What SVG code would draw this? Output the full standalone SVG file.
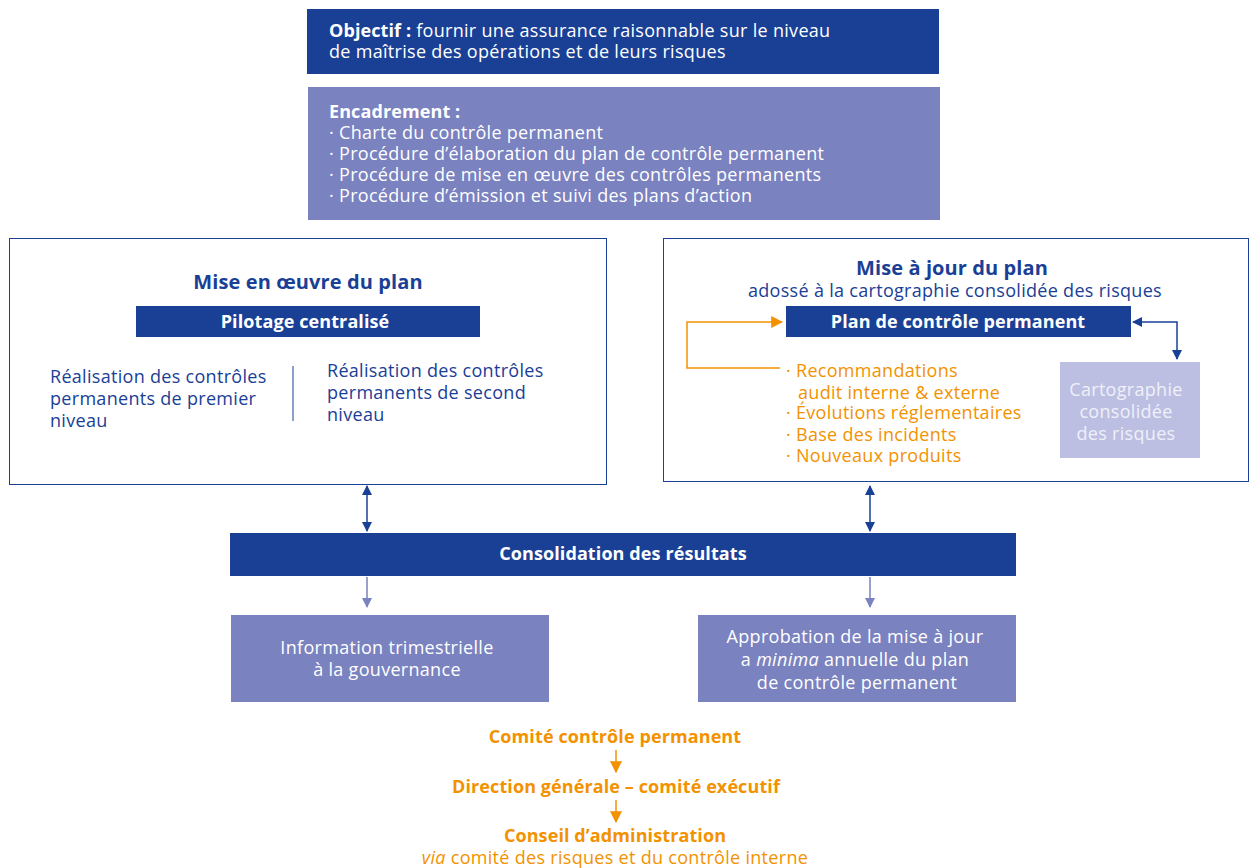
<svg xmlns="http://www.w3.org/2000/svg" width="1250" height="868" viewBox="0 0 1250 868">
<style>
text{font-family:"Open Sans","Noto Sans","Liberation Sans",sans-serif;font-size:18px;letter-spacing:0.3px}
.b{font-weight:700;letter-spacing:0.1px}
.t{font-size:20px}
.w{fill:#ffffff}
.db{fill:#1a4096}
.or{fill:#f39200}
.c{text-anchor:middle}
.lav{fill:#f0f0fa}
</style>
<defs>
<marker id="ab" viewBox="0 0 10 10" refX="9" refY="5" markerWidth="10" markerHeight="10" markerUnits="userSpaceOnUse" orient="auto-start-reverse"><path d="M0,0 L10,5 L0,10 z" fill="#1a4096"/></marker>
<marker id="ap" viewBox="0 0 10 10" refX="9" refY="5" markerWidth="10" markerHeight="10" markerUnits="userSpaceOnUse" orient="auto"><path d="M0,0 L10,5 L0,10 z" fill="#7a82bf"/></marker>
<marker id="ao" viewBox="0 0 10 10" refX="9" refY="5" markerWidth="12" markerHeight="12" markerUnits="userSpaceOnUse" orient="auto"><path d="M0,0 L10,5 L0,10 z" fill="#f39200"/></marker>
</defs>

<g id="objectif">
<rect x="307" y="9" width="632" height="65" fill="#1a4096"/>
<text x="329" y="37" class="w"><tspan class="b">Objectif :</tspan> fournir une assurance raisonnable sur le niveau</text>
<text x="329" y="58" class="w">de maîtrise des opérations et de leurs risques</text>
</g>

<g id="encadrement">
<rect x="308" y="87" width="632" height="133" fill="#7a82bf"/>
<text x="329" y="118" class="w b">Encadrement :</text>
<text x="329" y="139" class="w">· Charte du contrôle permanent</text>
<text x="329" y="160" class="w">· Procédure d’élaboration du plan de contrôle permanent</text>
<text x="329" y="181" class="w">· Procédure de mise en œuvre des contrôles permanents</text>
<text x="329" y="202" class="w">· Procédure d’émission et suivi des plans d’action</text>
</g>

<g id="mise-en-oeuvre">
<rect x="9.5" y="238.5" width="597" height="246" fill="#ffffff" stroke="#1a4096" stroke-width="1"/>
<text x="308" y="289" class="db b c t">Mise en œuvre du plan</text>
<rect x="136" y="306" width="344" height="31" fill="#1a4096"/>
<text x="305" y="328" class="w b c">Pilotage centralisé</text>
<text x="50" y="383" class="db">Réalisation des contrôles</text>
<text x="50" y="405" class="db">permanents de premier</text>
<text x="50" y="427" class="db">niveau</text>
<line x1="293" y1="366" x2="293" y2="421" stroke="#1a4096" stroke-width="1"/>
<text x="327" y="377" class="db">Réalisation des contrôles</text>
<text x="327" y="399" class="db">permanents de second</text>
<text x="327" y="421" class="db">niveau</text>
</g>

<g id="mise-a-jour">
<rect x="663.5" y="238.5" width="585" height="243" fill="#ffffff" stroke="#1a4096" stroke-width="1"/>
<text x="952" y="275" class="db b c t">Mise à jour du plan</text>
<text x="955" y="297" class="db c">adossé à la cartographie consolidée des risques</text>
</g>

<g id="plan-controle">
<rect x="786" y="306" width="345" height="31" fill="#1a4096"/>
<text x="958" y="328" class="w b c">Plan de contrôle permanent</text>
</g>

<g id="sources">
<text x="786" y="377" class="or">· Recommandations</text>
<text x="798" y="399" class="or">audit interne &amp; externe</text>
<text x="786" y="419" class="or">· Évolutions réglementaires</text>
<text x="786" y="441" class="or">· Base des incidents</text>
<text x="786" y="462" class="or">· Nouveaux produits</text>
</g>

<g id="cartographie">
<rect x="1060" y="362" width="140" height="96" fill="#bcbfe2"/>
<text x="1126" y="396" class="lav c">Cartographie</text>
<text x="1126" y="418" class="lav c">consolidée</text>
<text x="1126" y="440" class="lav c">des risques</text>
</g>

<g id="consolidation">
<rect x="230" y="533" width="786" height="43" fill="#1a4096"/>
<text x="623" y="560" class="w b c">Consolidation des résultats</text>
</g>

<g id="information">
<rect x="231" y="615" width="318" height="87" fill="#7a82bf"/>
<text x="387" y="654" class="w c">Information trimestrielle</text>
<text x="387" y="676" class="w c">à la gouvernance</text>
</g>

<g id="approbation">
<rect x="698" y="615" width="318" height="87" fill="#7a82bf"/>
<text x="855" y="643" class="w c">Approbation de la mise à jour</text>
<text x="855" y="666" class="w c">a <tspan font-style="italic">minima</tspan> annuelle du plan</text>
<text x="857" y="689" class="w c">de contrôle permanent</text>
</g>

<g id="gouvernance">
<text x="615" y="743" class="or b c">Comité contrôle permanent</text>
<text x="616" y="793" class="or b c">Direction générale – comité exécutif</text>
<text x="615" y="842" class="or b c">Conseil d’administration</text>
<text x="615" y="864" class="or c"><tspan font-style="italic">via</tspan> comité des risques et du contrôle interne</text>
</g>

<g id="connectors" fill="none">
<path d="M780,368 H687 V322 H782" stroke="#f39200" stroke-width="1.5" marker-end="url(#ao)"/>
<path d="M1133,322 H1177 V359" stroke="#1a4096" stroke-width="1.5" marker-start="url(#ab)" marker-end="url(#ab)"/>
<line x1="367" y1="486" x2="367" y2="531" stroke="#1a4096" stroke-width="1.5" marker-start="url(#ab)" marker-end="url(#ab)"/>
<line x1="870" y1="486" x2="870" y2="531" stroke="#1a4096" stroke-width="1.5" marker-start="url(#ab)" marker-end="url(#ab)"/>
<line x1="367" y1="577" x2="367" y2="607" stroke="#7a82bf" stroke-width="1.5" marker-end="url(#ap)"/>
<line x1="870" y1="577" x2="870" y2="607" stroke="#7a82bf" stroke-width="1.5" marker-end="url(#ap)"/>
<line x1="616" y1="750" x2="616" y2="772" stroke="#f39200" stroke-width="1.5" marker-end="url(#ao)"/>
<line x1="616" y1="800" x2="616" y2="822" stroke="#f39200" stroke-width="1.5" marker-end="url(#ao)"/>
</g>
</svg>
